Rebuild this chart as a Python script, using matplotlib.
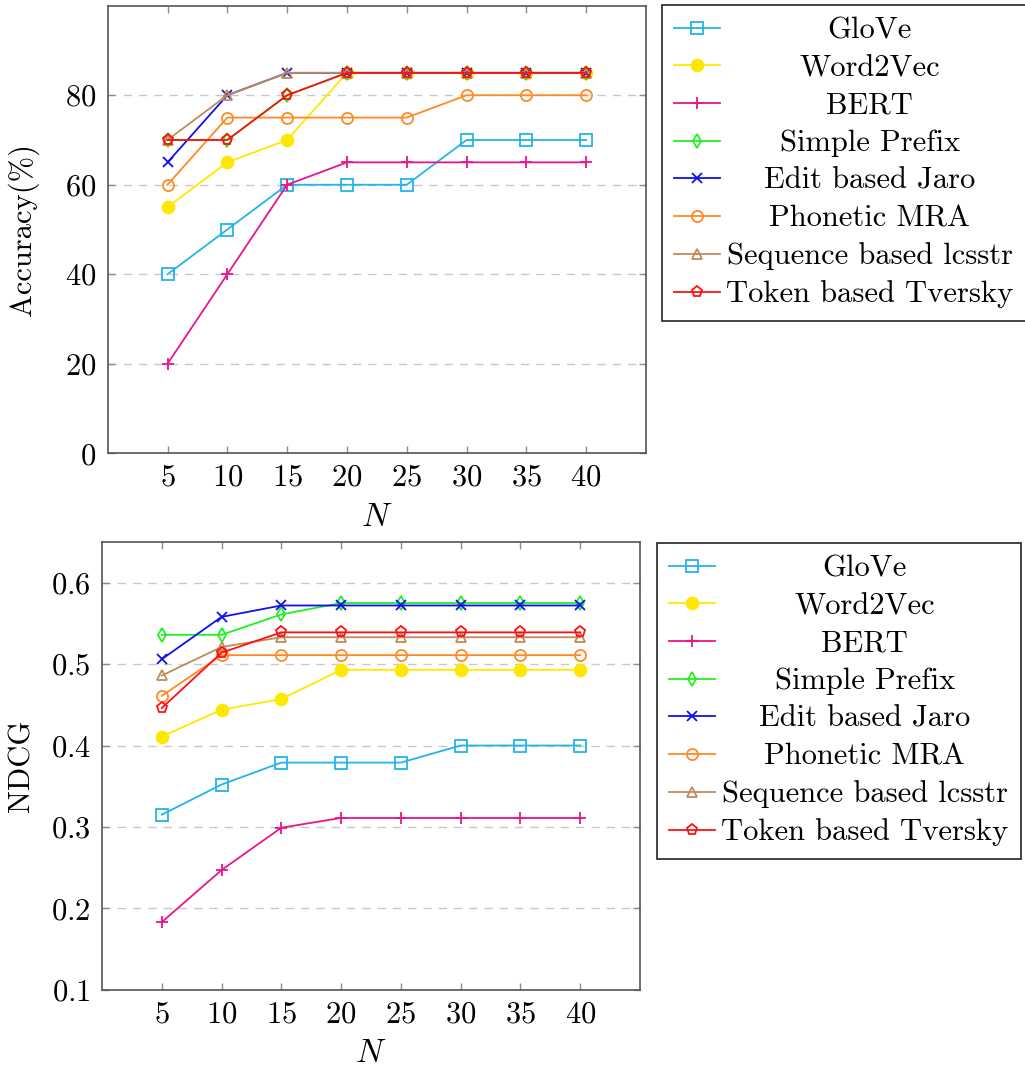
import matplotlib
matplotlib.use("Agg")
import matplotlib.pyplot as plt

plt.rcParams['font.family'] = ['cmr10', 'DejaVu Serif']
plt.rcParams['mathtext.fontset'] = 'cm'
plt.rcParams['axes.unicode_minus'] = False
plt.rcParams['axes.formatter.use_mathtext'] = True

N = [5, 10, 15, 20, 25, 30, 35, 40]
names = ["GloVe", "Word2Vec", "BERT", "Simple Prefix", "Edit based Jaro",
         "Phonetic MRA", "Sequence based lcsstr", "Token based Tversky"]

acc_glove = [40, 50, 60, 60, 60, 70, 70, 70]
acc_w2v = [55, 65, 70, 85, 85, 85, 85, 85]
acc_bert = [20, 40, 60, 65, 65, 65, 65, 65]
acc_prefix = [70, 70, 80, 85, 85, 85, 85, 85]
acc_jaro = [65, 80, 85, 85, 85, 85, 85, 85]
acc_mra = [60, 75, 75, 75, 75, 80, 80, 80]
acc_lcsstr = [70, 80, 85, 85, 85, 85, 85, 85]
acc_tversky = [70, 70, 80, 85, 85, 85, 85, 85]

ndcg_glove = [0.315, 0.352, 0.379, 0.379, 0.379, 0.400, 0.400, 0.400]
ndcg_w2v = [0.411, 0.444, 0.457, 0.493, 0.493, 0.493, 0.493, 0.493]
ndcg_bert = [0.183, 0.247, 0.299, 0.311, 0.311, 0.311, 0.311, 0.311]
ndcg_prefix = [0.536, 0.536, 0.561, 0.575, 0.575, 0.575, 0.575, 0.575]
ndcg_jaro = [0.506, 0.558, 0.572, 0.572, 0.572, 0.572, 0.572, 0.572]
ndcg_mra = [0.461, 0.511, 0.511, 0.511, 0.511, 0.511, 0.511, 0.511]
ndcg_lcsstr = [0.486, 0.521, 0.533, 0.533, 0.533, 0.533, 0.533, 0.533]
ndcg_tversky = [0.446, 0.514, 0.539, 0.539, 0.539, 0.539, 0.539, 0.539]

acc_series = [acc_glove, acc_w2v, acc_bert, acc_prefix, acc_jaro, acc_mra, acc_lcsstr, acc_tversky]
ndcg_series = [ndcg_glove, ndcg_w2v, ndcg_bert, ndcg_prefix, ndcg_jaro, ndcg_mra, ndcg_lcsstr, ndcg_tversky]

colors = ['#22b4ea', '#ffe800', '#e8158c', '#22f022', '#1010f0', '#ff8a24', '#c08a5a', '#ff1010']
markers = ['s', 'o', '+', 'd', 'x', 'o', '^', 'p']
filled = [False, True, True, False, True, False, False, False]
msizes = [8.5, 8.5, 9, 7, 6.5, 8, 7.5, 8]

fig = plt.figure(figsize=(10.25, 10.7), dpi=100)
W, H = 1025, 1070
ax1 = fig.add_axes([107.7 / W, (H - 453.3) / H, (646 - 107.7) / W, (453.3 - 5.7) / H])
ax2 = fig.add_axes([102 / W, (H - 989.7) / H, (640 - 102) / W, (989.7 - 542) / H])

FS = 22
LFS = 22


def draw(ax, series, ylim, yticks, ylabel, ypad, leg_anchor):
    for i, (name, vals) in enumerate(zip(names, series)):
        c = colors[i]
        ax.plot(N, vals, color=c, lw=1.3, marker=markers[i], ms=msizes[i],
                markerfacecolor=(c if filled[i] else 'none'), markeredgecolor=c,
                markeredgewidth=1.3, label=name, zorder=3 + i)
    ax.set_xlim(0, 45)
    ax.set_ylim(*ylim)
    ax.set_xticks(N)
    ax.set_yticks(yticks)
    ax.yaxis.grid(True, linestyle=(0, (6, 5)), color='#c8c8c8', lw=1.0)
    ax.set_axisbelow(True)
    ax.tick_params(direction='in', top=True, right=True, length=5, width=1.0,
                   color='#8c8c8c', labelsize=FS, pad=8)
    for s in ax.spines.values():
        s.set_color('#555555')
        s.set_linewidth(1.2)
    ax.set_xlabel('$N$', fontsize=FS + 2, labelpad=8)
    ax.set_ylabel(ylabel, fontsize=FS, labelpad=ypad)
    leg = ax.legend(loc='upper left', bbox_to_anchor=leg_anchor,
                    bbox_transform=fig.transFigure, fontsize=LFS,
                    frameon=True, fancybox=False, edgecolor='#222222',
                    handlelength=1.5, handletextpad=0.2, labelspacing=0.33,
                    borderpad=0.4, borderaxespad=0, framealpha=1)
    leg.get_frame().set_linewidth(1.2)
    return leg


leg1 = draw(ax1, acc_series, (0, 100), [0, 20, 40, 60, 80], 'Accuracy(%)', 19,
            (662 / W, (H - 5) / H))
leg2 = draw(ax2, ndcg_series, (0.1, 0.65), [0.1, 0.2, 0.3, 0.4, 0.5, 0.6], 'NDCG', 11,
            (657 / W, (H - 543) / H))

# centre the legend labels inside their column (as in the reference)
fig.canvas.draw()
r = fig.canvas.get_renderer()
inv = fig.transFigure.inverted()
for leg in (leg1, leg2):
    texts = leg.get_texts()
    exts = [t.get_window_extent(r) for t in texts]
    cx = (min(e.x0 for e in exts) + max(e.x1 for e in exts)) / 2
    for t in texts:
        px = t.get_transform().transform(t.get_position())
        fx, fy = inv.transform((cx, px[1]))
        fig.text(fx, fy, t.get_text(), ha='center', va='baseline', fontsize=LFS, zorder=10)
        t.set_alpha(0)

fig.savefig('out.png', dpi=100)
